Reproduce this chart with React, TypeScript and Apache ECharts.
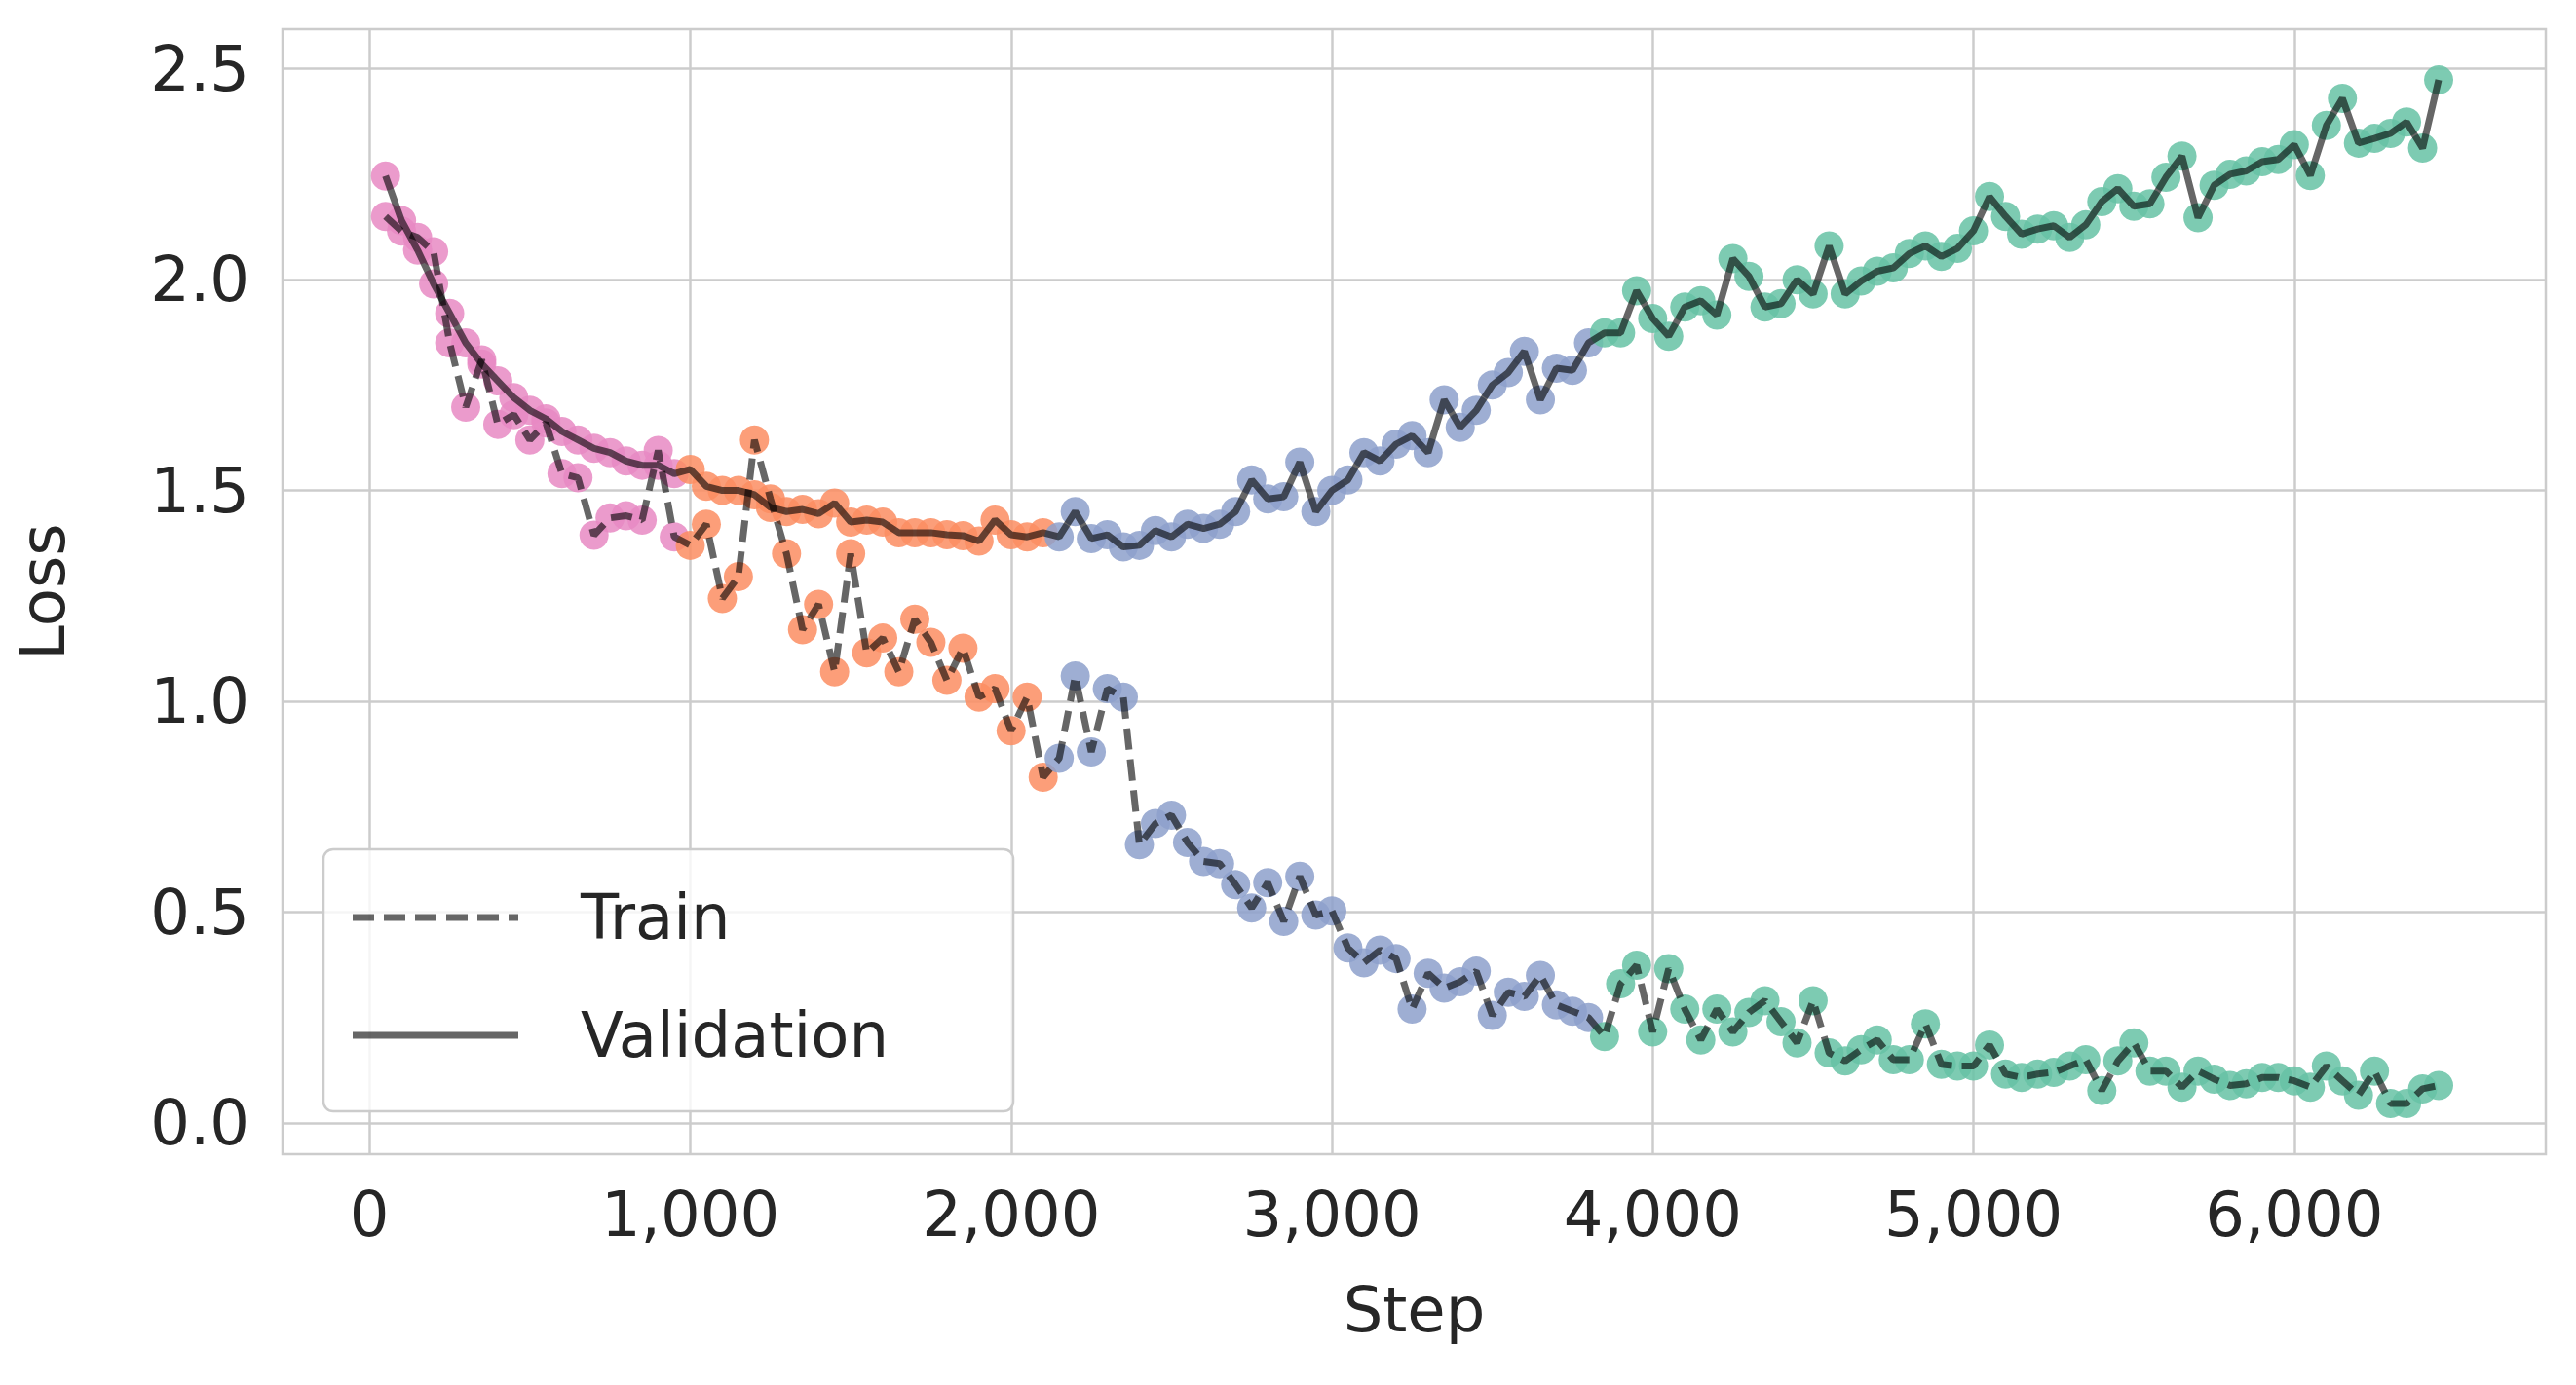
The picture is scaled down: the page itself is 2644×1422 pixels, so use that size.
import { useEffect, useRef } from "react";
import * as echarts from "echarts";

// steps 50..6450, one point every 50
const STEPS = Array.from({ length: 129 }, (_, i) => 50 + i * 50);

const TRAIN = [
  2.15, 2.115, 2.1, 2.066, 1.85, 1.698, 1.81, 1.657, 1.68, 1.62, 1.66, 1.54, 1.53, 1.394, 1.435, 1.44, 1.43, 1.595, 1.39,
  1.37, 1.42, 1.244, 1.296, 1.62, 1.48, 1.35, 1.17, 1.23, 1.07, 1.35, 1.115, 1.15, 1.07, 1.195, 1.14, 1.05, 1.126, 1.01,
  1.03, 0.93, 1.01, 0.82,
  0.865, 1.06, 0.88, 1.03, 1.01, 0.66, 0.71, 0.73, 0.665, 0.62, 0.615, 0.565, 0.51, 0.57, 0.478, 0.585, 0.493, 0.503,
  0.415, 0.38, 0.41, 0.39, 0.27, 0.355, 0.32, 0.335, 0.36, 0.255, 0.31, 0.3, 0.35, 0.28, 0.265, 0.25,
  0.205, 0.33, 0.374, 0.216, 0.366, 0.27, 0.197, 0.27, 0.216, 0.262, 0.29, 0.24, 0.19, 0.29, 0.166, 0.147, 0.174, 0.197,
  0.15, 0.15, 0.235, 0.139, 0.135, 0.135, 0.185, 0.116, 0.108, 0.116, 0.12, 0.135, 0.15, 0.077, 0.147, 0.19, 0.123, 0.123,
  0.085, 0.123, 0.104, 0.089, 0.093, 0.108, 0.108, 0.1, 0.085, 0.135, 0.1, 0.066, 0.123, 0.046, 0.046, 0.081, 0.089,
];

const VAL = [
  2.246, 2.14, 2.07, 1.99, 1.92, 1.85, 1.8, 1.76, 1.72, 1.69, 1.67, 1.64, 1.62, 1.6, 1.59, 1.57, 1.56, 1.56, 1.54,
  1.55, 1.51, 1.5, 1.5, 1.49, 1.46, 1.45, 1.455, 1.445, 1.47, 1.425, 1.43, 1.425, 1.4, 1.4, 1.4, 1.395, 1.393, 1.38,
  1.43, 1.395, 1.39, 1.4,
  1.39, 1.45, 1.386, 1.395, 1.366, 1.37, 1.405, 1.39, 1.42, 1.41, 1.42, 1.45, 1.525, 1.48, 1.485, 1.567, 1.45, 1.5,
  1.525, 1.59, 1.57, 1.61, 1.63, 1.59, 1.715, 1.65, 1.69, 1.75, 1.78, 1.83, 1.715, 1.79, 1.785, 1.85,
  1.874, 1.874, 1.974, 1.908, 1.866, 1.935, 1.95, 1.916, 2.05, 2.008, 1.935, 1.943, 2.0, 1.966, 2.08, 1.966, 1.997, 2.02,
  2.028, 2.062, 2.08, 2.055, 2.074, 2.116, 2.197, 2.15, 2.108, 2.12, 2.128, 2.1, 2.13, 2.185, 2.216, 2.174, 2.18, 2.243,
  2.293, 2.147, 2.224, 2.25, 2.258, 2.28, 2.285, 2.32, 2.247, 2.366, 2.43, 2.324, 2.335, 2.347, 2.374, 2.312, 2.474,
];

// phase boundaries (last step of each phase) and colours
const PHASE_END = [950, 2100, 3800, 6450];
const PHASE_COLORS = ["#e78ac3", "#fc8d62", "#8da0cb", "#66c2a5"];

const X_TICKS = [0, 1000, 2000, 3000, 4000, 5000, 6000];
const Y_TICKS = [0, 0.5, 1, 1.5, 2, 2.5];

const FONT = "DejaVu Sans";
const TEXT = "#262626";

function phaseColor(step: number) {
  const i = PHASE_END.findIndex((e) => step <= e);
  return PHASE_COLORS[i];
}

export default function App() {
  const ref = useRef<HTMLDivElement>(null);

  useEffect(() => {
    document.body.style.margin = "0";
    if (!ref.current) return;
    const chart = echarts.init(ref.current, null, { renderer: "svg" });

    const dots = (vals: number[]) =>
      STEPS.map((s, i) => ({ value: [s, vals[i]], itemStyle: { color: phaseColor(s) } }));

    chart.setOption({
      animation: false,
      backgroundColor: "#fff",
      grid: { left: 290, right: 31, top: 30, bottom: 237, show: true, borderColor: "#cccccc", borderWidth: 2.5 },
      xAxis: {
        type: "value",
        min: -271,
        max: 6784,
        name: "Step",
        nameLocation: "middle",
        nameGap: 128,
        nameTextStyle: { fontFamily: FONT, fontSize: 64, color: TEXT },
        axisLine: { show: false },
        axisTick: { show: false, customValues: X_TICKS },
        axisLabel: { customValues: X_TICKS, fontFamily: FONT, fontSize: 64, color: TEXT, margin: 30 },
        splitLine: { show: true, lineStyle: { color: "#cccccc", width: 2.5 } },
      },
      yAxis: {
        type: "value",
        min: -0.074,
        max: 2.594,
        name: "Loss",
        nameLocation: "middle",
        nameGap: 214,
        nameTextStyle: { fontFamily: FONT, fontSize: 64, color: TEXT },
        axisLine: { show: false },
        axisTick: { show: false, customValues: Y_TICKS },
        axisLabel: {
          customValues: Y_TICKS,
          formatter: (v: number) => v.toFixed(1),
          fontFamily: FONT,
          fontSize: 64,
          color: TEXT,
          margin: 34,
        },
        splitLine: { show: true, lineStyle: { color: "#cccccc", width: 2.5 } },
      },
      series: [
        { type: "scatter", data: dots(TRAIN), symbolSize: 30, itemStyle: { opacity: 0.85 }, z: 2 },
        { type: "scatter", data: dots(VAL), symbolSize: 30, itemStyle: { opacity: 0.85 }, z: 2 },
        {
          type: "line",
          data: STEPS.map((s, i) => [s, TRAIN[i]]),
          showSymbol: false,
          lineStyle: { color: "rgba(0,0,0,0.6)", width: 7, type: [22, 10] },
          z: 3,
        },
        {
          type: "line",
          data: STEPS.map((s, i) => [s, VAL[i]]),
          showSymbol: false,
          lineStyle: { color: "rgba(0,0,0,0.6)", width: 7 },
          z: 3,
        },
      ],
      graphic: [
        {
          type: "rect",
          shape: { x: 332, y: 872, width: 708, height: 269, r: 10 },
          style: { fill: "rgba(255,255,255,0.8)", stroke: "#cccccc", lineWidth: 2.5 },
          z: 10,
        },
        {
          type: "line",
          shape: { x1: 362, y1: 942, x2: 532, y2: 942 },
          style: { stroke: "rgba(0,0,0,0.6)", lineWidth: 7, lineDash: [22, 10] },
          z: 11,
        },
        {
          type: "text",
          x: 596,
          y: 942,
          style: { text: "Train", fontFamily: FONT, fontSize: 64, fill: TEXT, verticalAlign: "middle" },
          z: 11,
        },
        {
          type: "line",
          shape: { x1: 362, y1: 1063, x2: 532, y2: 1063 },
          style: { stroke: "rgba(0,0,0,0.6)", lineWidth: 7 },
          z: 11,
        },
        {
          type: "text",
          x: 596,
          y: 1063,
          style: { text: "Validation", fontFamily: FONT, fontSize: 64, fill: TEXT, verticalAlign: "middle" },
          z: 11,
        },
      ],
    });

    return () => chart.dispose();
  }, []);

  return <div ref={ref} style={{ width: 2644, height: 1422 }} />;
}
